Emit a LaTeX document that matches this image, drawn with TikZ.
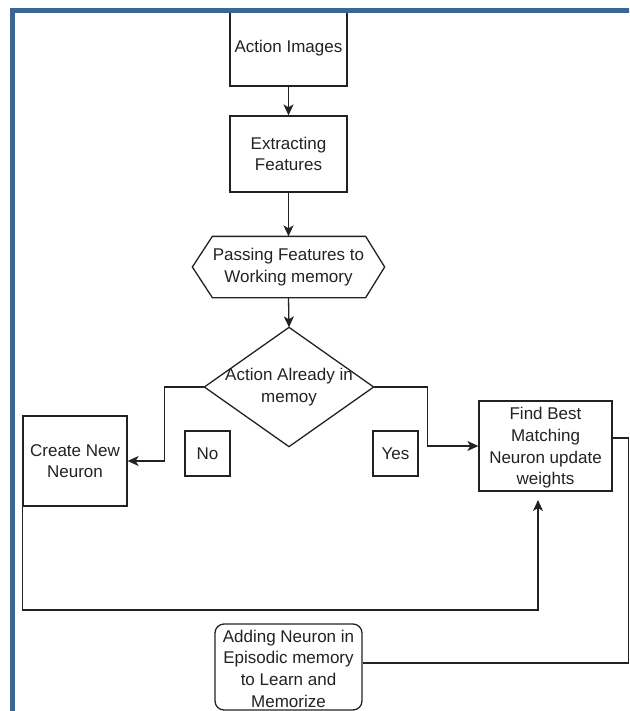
\documentclass[tikz,border=0pt]{standalone}
\usepackage{fontspec}
\setmainfont{Liberation Sans}
\usetikzlibrary{arrows.meta}
\definecolor{frameblue}{HTML}{3C6494}
\definecolor{ink}{HTML}{222222}
\begin{document}
\begin{tikzpicture}[x=1pt,y=-1pt,
  box/.style={draw=ink, line width=1.3pt, fill=white, inner sep=0pt, align=center, text=ink,
              font=\fontsize{17}{21.7}\selectfont},
  plain/.style={box, draw=none, fill=none},
  conn/.style={draw=ink, line width=1.3pt},
  arr/.style={conn, -{Stealth[length=11pt,width=10pt,inset=3pt]}}]
\useasboundingbox (0,0) rectangle (629,711);

% nodes
\node[box, minimum width=117pt, minimum height=75pt] (act) at (288.5,48.5) {Action Images};
\node[box, minimum width=117pt, minimum height=76pt] (ext) at (288.5,154) {Extracting\\Features};
\node[plain, minimum width=191pt, minimum height=60pt] (hex) at (288.5,267) {Passing Features to\\Working memory};
\draw[conn] (hex.west) -- ([xshift=20pt]hex.north west) -- ([xshift=-19pt]hex.north east) -- (hex.east)
  -- ([xshift=-19pt]hex.south east) -- ([xshift=20pt]hex.south west) -- cycle;
\node[plain, minimum width=168pt, minimum height=118pt] (dia) at (289,387) {Action Already in\\memoy};
\draw[conn] (dia.north) -- (dia.east) -- (dia.south) -- (dia.west) -- cycle;
\node[box, minimum width=104pt, minimum height=90pt] (cre) at (75,461) {Create New\\Neuron};
\node[box, minimum size=45pt] (no) at (207.5,453.5) {No};
\node[box, minimum size=45pt] (yes) at (395.5,453.5) {Yes};
\node[box, minimum width=133pt, minimum height=90pt] (fbm) at (545.5,446) {};
\node[plain] (fbmtxt) at ([yshift=-2pt]fbm.center) {Find Best\\Matching\\Neuron update\\weights};
\node[box, rounded corners=9pt, minimum width=147pt, minimum height=86pt] (add) at (288.5,667) {};
\node[plain] (addtxt) at ([yshift=-1.5pt]add.center) {Adding Neuron in\\Episodic memory\\to Learn and\\Memorize};

% connectors
\coordinate (fbin) at (538,500);
\coordinate (loopR) at (538,610);
\draw[arr] (act.south) -- (ext.north);
\draw[arr] (ext.south) -- (hex.north);
\draw[arr] (hex.south) -- (dia.north);
\draw[arr] (dia.west) -- ++(-40,0) |- (cre.east);
\draw[arr] (dia.east) -- ++(54,0) |- (fbm.west);
\draw[arr] (cre.south west) |- (loopR) -- (fbin);
\draw[conn] ([yshift=8pt]fbm.east) -- ++(16,0) |- ([yshift=4pt]add.east);

% frame
\begin{scope}
\clip (0,0) rectangle (629,711);
\draw[frameblue, line width=5pt] (12.5,730) -- (12.5,10.8) -- (650,10.8);
\end{scope}
\end{tikzpicture}
\end{document}
